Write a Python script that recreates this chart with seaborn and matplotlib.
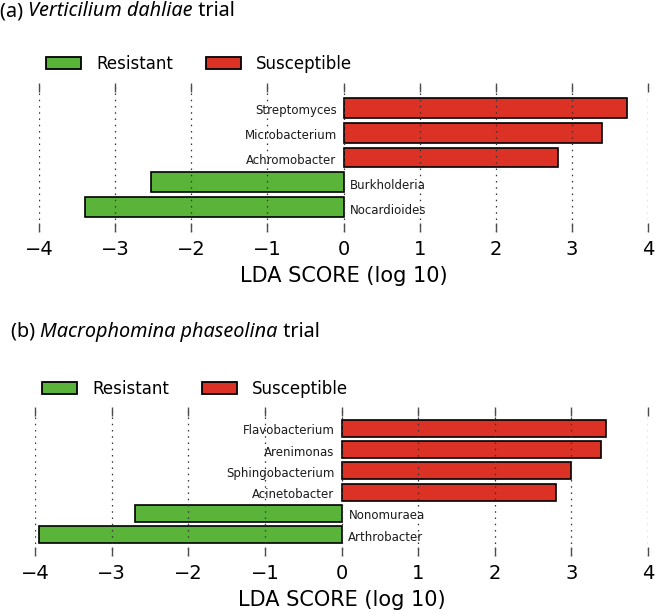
import matplotlib
matplotlib.use("Agg")
import matplotlib.pyplot as plt
from matplotlib.patches import Patch
import pandas as pd
import seaborn as sns

# (a) Verticilium dahliae trial
vd_taxa = ["Streptomyces", "Microbacterium", "Achromobacter", "Burkholderia", "Nocardioides"]
vd_lda = [3.72, 3.39, 2.82, -2.53, -3.40]
vd_group = ["Susceptible", "Susceptible", "Susceptible", "Resistant", "Resistant"]

# (b) Macrophomina phaseolina trial
mp_taxa = ["Flavobacterium", "Arenimonas", "Sphingobacterium", "Acinetobacter",
           "Nonomuraea", "Arthrobacter"]
mp_lda = [3.45, 3.39, 3.00, 2.80, -2.69, -3.95]
mp_group = ["Susceptible", "Susceptible", "Susceptible", "Susceptible",
            "Resistant", "Resistant"]

groups = ["Resistant", "Susceptible"]
colors = {"Resistant": "#5ab43a", "Susceptible": "#dc3125"}
x_ticks = [-4, -3, -2, -1, 0, 1, 2, 3, 4]

W, H = 655, 614
TITLE_FONT = "Noto Sans"


def fig_box(left, top, right, bottom):
    """pixel box (from top-left) -> figure fraction rect"""
    return [left / W, 1 - bottom / H, (right - left) / W, (bottom - top) / H]


def draw_panel(ax, taxa, lda, group):
    df = pd.DataFrame({"taxon": taxa, "lda": lda, "group": group})
    sns.barplot(data=df, x="lda", y="taxon", hue="group", palette=colors,
                hue_order=groups, dodge=False, width=0.8, orient="h", saturation=1,
                edgecolor="black", linewidth=1.2, legend=False, ax=ax)
    n = len(taxa)
    ax.set_ylim(n, -1)
    ax.set_xlim(x_ticks[0], x_ticks[-1])
    ax.set_xticks(x_ticks)
    ax.set_yticks([])
    ax.set_ylabel("")
    for s in ax.spines.values():
        s.set_visible(False)
    ax.set_axisbelow(False)
    ax.xaxis.grid(True, linestyle=(0, (1.2, 3.8)), color="0.2", linewidth=0.9)
    ax.tick_params(axis="x", direction="in", top=True, bottom=True, length=6.5,
                   width=1, color="0.3", labelsize=14, pad=6)
    ax.tick_params(axis="y", left=False)
    ax.set_xlabel("LDA SCORE (log 10)", fontsize=15, labelpad=5)
    # taxon names on the opposite side of zero
    for i, (name, v) in enumerate(zip(taxa, lda)):
        if v > 0:
            ax.text(-0.09, i + 0.12, name, ha="right", va="center", fontsize=8.5, color="0.1")
        else:
            ax.text(0.09, i + 0.12, name, ha="left", va="center", fontsize=8.5, color="0.1")


def add_title(fig, x, y, tag, species, size=14.3):
    # "(a) " upright, species italic, " trial" upright, chained left to right
    t1 = fig.text(x / W, 1 - y / H, tag + " ", fontsize=size, family=TITLE_FONT, va="center")
    t2 = plt.annotate(species, xy=(1, 0), xycoords=t1, va="bottom", ha="left",
                      fontsize=size, family=TITLE_FONT, style="italic")
    plt.annotate(" trial", xy=(1, 0), xycoords=t2, va="bottom", ha="left",
                 fontsize=size, family=TITLE_FONT)


def add_legend(fig, x, y):
    handles = [Patch(facecolor=colors[g], edgecolor="black", linewidth=1.3, label=g)
               for g in groups]
    fig.legend(handles=handles, loc="center left", bbox_to_anchor=(x / W, 1 - y / H),
               ncol=2, frameon=False, fontsize=12, borderpad=0, borderaxespad=0,
               handlelength=2.1, handleheight=0.78, handletextpad=0.9, columnspacing=2.0)


fig = plt.figure(figsize=(6.55, 6.14), dpi=100)
ax1 = fig.add_axes(fig_box(39, 83, 648, 232))
ax2 = fig.add_axes(fig_box(35, 407, 648, 556))

draw_panel(ax1, vd_taxa, vd_lda, vd_group)
draw_panel(ax2, mp_taxa, mp_lda, mp_group)

add_title(fig, 0, 11, "(a)", "Verticilium dahliae")
add_title(fig, 11, 332, "(b)", "Macrophomina phaseolina")
add_legend(fig, 46, 64)
add_legend(fig, 42, 389)

fig.savefig("out.png", dpi=100)
